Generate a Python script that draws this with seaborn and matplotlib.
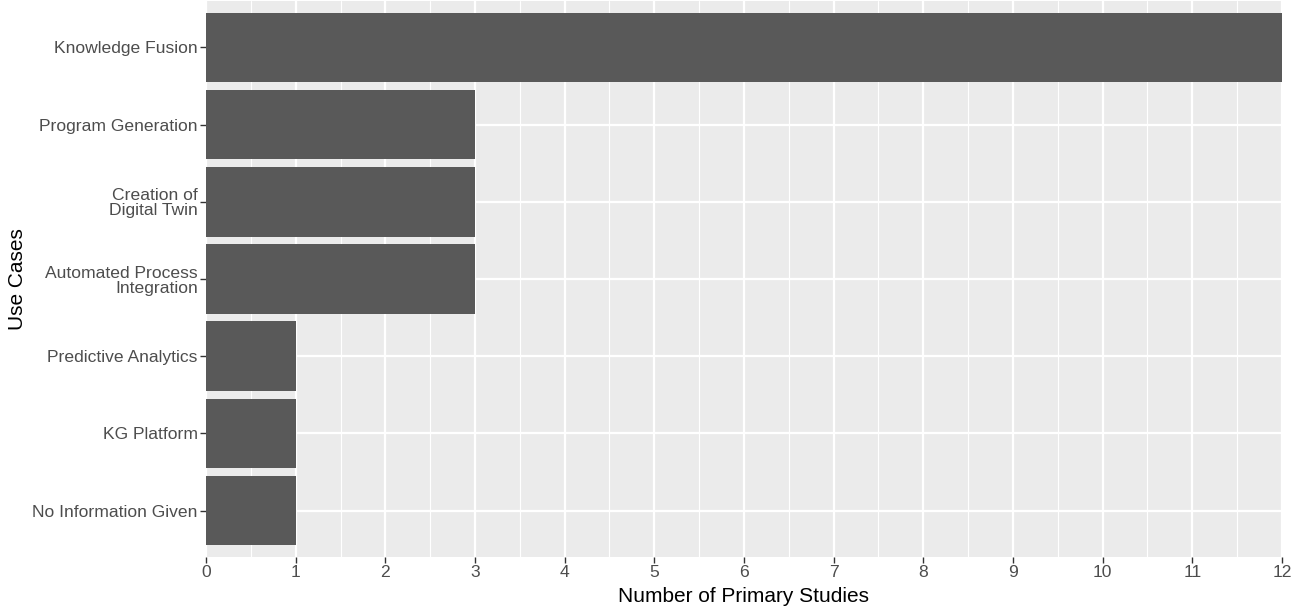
"""
Horizontal bar chart: number of primary studies per use case (ggplot look).
"""
import matplotlib
matplotlib.use("Agg")
import matplotlib.pyplot as plt
import matplotlib.ticker as mticker
import pandas as pd
import seaborn as sns

USE_CASES = [
    "Knowledge Fusion",
    "Program Generation",
    "Creation of\nDigital Twin",
    "Automated Process\nIntegration",
    "Predictive Analytics",
    "KG Platform",
    "No Information Given",
]
N_STUDIES = [12, 3, 3, 3, 1, 1, 1]
X_TICKS = list(range(0, 13))

BAR_COLOR = "#595959"
PANEL_BG  = "#EBEBEB"
TEXT_GREY = "#4D4D4D"

df = pd.DataFrame({"use_case": USE_CASES, "n": N_STUDIES})

sns.set_theme(style="darkgrid", rc={
    "axes.facecolor": PANEL_BG,
    "grid.color": "white",
    "axes.edgecolor": PANEL_BG,
})
plt.rcParams["font.family"] = ["Liberation Sans", "DejaVu Sans"]

fig = plt.figure(figsize=(12.92, 6.11), dpi=100)
ax = fig.add_axes([206 / 1292, 54 / 611, 1076 / 1292, 556 / 611])

sns.barplot(data=df, x="n", y="use_case", order=USE_CASES, orient="h",
            color=BAR_COLOR, width=0.9, saturation=1, linewidth=0,
            ax=ax, zorder=3)

ax.set_xlim(0, 12)
ax.set_ylim(len(USE_CASES) - 0.4, -0.6)
ax.xaxis.set_major_locator(mticker.FixedLocator(X_TICKS))
ax.xaxis.set_minor_locator(mticker.MultipleLocator(0.5))
ax.grid(which="major", axis="both", color="white", linewidth=1.6, zorder=0)
ax.grid(which="minor", axis="x", color="white", linewidth=0.8, zorder=0)
ax.set_axisbelow(True)
for s in ax.spines.values():
    s.set_visible(False)

ax.tick_params(axis="both", which="major", length=4, width=1, color="#333333",
               labelsize=12.6, labelcolor=TEXT_GREY, pad=2,
               bottom=True, left=True)
ax.tick_params(axis="x", which="minor", length=0)
for lab in ax.get_yticklabels():
    lab.set_linespacing(1.0)

ax.set_xlabel("Number of Primary Studies", fontsize=15, color="black", labelpad=5)
ax.set_ylabel("Use Cases", fontsize=15, color="black")
ax.yaxis.set_label_coords(-0.166, 0.5)

fig.savefig("out.png", dpi=100)
plt.close(fig)
